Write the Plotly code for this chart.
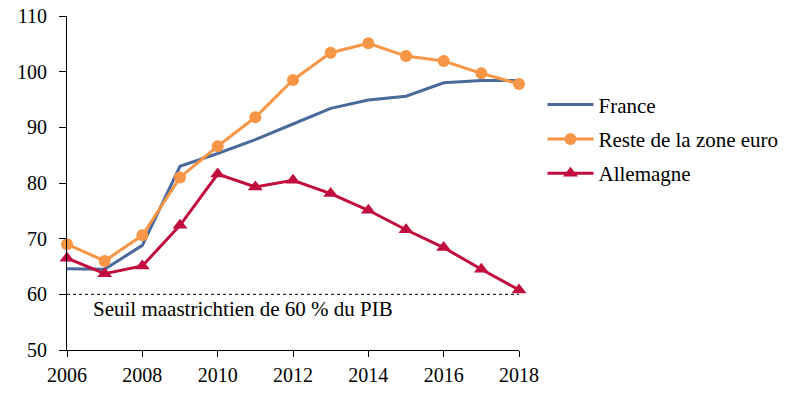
import plotly.graph_objects as go

years = list(range(2006, 2019))
france = [64.6, 64.5, 68.8, 83.0, 85.3, 87.8, 90.6, 93.4, 94.9, 95.6, 98.0, 98.4, 98.4]
reste = [69.0, 66.0, 70.6, 81.0, 86.6, 91.8, 98.5, 103.4, 105.1, 102.8, 101.9, 99.7, 97.8]
allemagne = [66.5, 63.7, 65.1, 72.4, 81.6, 79.3, 80.5, 78.1, 75.1, 71.6, 68.4, 64.5, 60.8]
seuil = 60
x_ticks = [2006, 2008, 2010, 2012, 2014, 2016, 2018]
y_ticks = [50, 60, 70, 80, 90, 100, 110]

FONT = "Liberation Serif, DejaVu Serif, serif"

fig = go.Figure()
fig.add_trace(go.Scatter(x=years, y=france, name="France", mode="lines", legendgroup="a",
                         line=dict(color="#4A6A9C", width=3), cliponaxis=False))
fig.add_trace(go.Scatter(x=years, y=reste, name="Reste de la zone euro", mode="lines+markers",
                         legendgroup="b", cliponaxis=False,
                         line=dict(color="#F79646", width=3),
                         marker=dict(symbol="circle", size=12, color="#F79646")))
fig.add_trace(go.Scatter(x=years, y=allemagne, name="Allemagne", mode="lines+markers",
                         legendgroup="c", cliponaxis=False,
                         line=dict(color="#C00D3E", width=3),
                         marker=dict(symbol="triangle-up", size=13, color="#C00D3E")))

fig.add_shape(type="line", xref="x", yref="y", x0=years[0], x1=years[-1], y0=seuil, y1=seuil,
              line=dict(color="black", width=1, dash="dot"), layer="below")
fig.add_annotation(x=2006.65, y=seuil, xref="x", yref="y", xanchor="left", yanchor="top",
                   text="Seuil maastrichtien de 60 % du PIB", showarrow=False,
                   font=dict(family=FONT, size=21, color="black"), yshift=-1)

fig.update_layout(
    width=810, height=396,
    margin=dict(l=67, r=291, t=16, b=46, autoexpand=False),
    paper_bgcolor="white", plot_bgcolor="white",
    font=dict(family=FONT, size=20, color="black"),
    showlegend=True,
    legend=dict(x=1.052, y=0.795, xanchor="left", yanchor="top",
                font=dict(family=FONT, size=21), traceorder="grouped", tracegroupgap=4,
                itemwidth=46, bgcolor="rgba(0,0,0,0)"),
    xaxis=dict(range=[2006, 2018], tickvals=x_ticks, showgrid=False, zeroline=False,
               showline=True, linecolor="black", linewidth=1, ticks="outside",
               ticklen=6, tickcolor="black", ticklabelstandoff=1),
    yaxis=dict(range=[50, 110], tickvals=y_ticks, showgrid=False, zeroline=False,
               showline=True, linecolor="black", linewidth=1, ticks="outside",
               ticklen=7, tickcolor="black", ticklabelstandoff=8),
)
fig.write_html("out.html", config={"displayModeBar": False},
               post_script="document.body.style.margin='0';document.body.style.overflow='hidden';")
